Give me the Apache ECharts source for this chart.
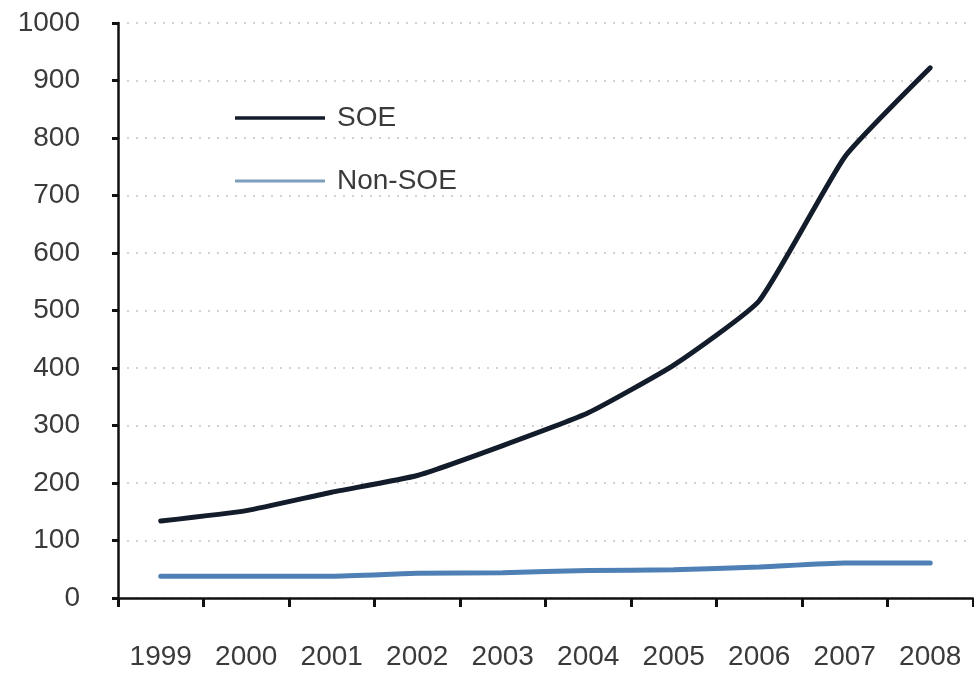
<!DOCTYPE html>
<html>
<head>
<meta charset="utf-8">
<script src="https://cdn.jsdelivr.net/npm/echarts@6/dist/echarts.min.js"></script>
<style>
  html, body { margin: 0; padding: 0; background: #fff; }
  #chart { width: 974px; height: 673px; }
</style>
</head>
<body>
<div id="chart"></div>
<script>
  // values
  var years = ['1999', '2000', '2001', '2002', '2003', '2004', '2005', '2006', '2007', '2008'];
  var soe = [134, 152, 184, 213, 265, 322, 405, 517, 767, 922];
  var nonSoe = [38, 38, 38, 43, 44, 48, 49, 54, 61, 61];

  var chart = echarts.init(document.getElementById('chart'));
  var font = 'Liberation Sans, Arial, sans-serif';
  var labelFont = {fontFamily: font, fontSize: 28, color: '#3a3a3a'};
  var legendText = {fontFamily: font, fontSize: 28, color: '#3a3a3a', padding: [0, 0, 0, 7]};

  chart.setOption({
    backgroundColor: '#fff',
    animation: false,
    grid: {left: 118, right: 1, top: 23, bottom: 75},
    legend: [
      {
        data: [{name: 'SOE', icon: 'rect'}],
        left: 230, top: 99,
        itemWidth: 90, itemHeight: 3.5, itemGap: 0,
        textStyle: legendText
      },
      {
        data: [{name: 'Non-SOE', icon: 'rect'}],
        left: 230, top: 162,
        itemWidth: 90, itemHeight: 3, itemGap: 0,
        itemStyle: {color: '#7d9dbd'},
        textStyle: legendText
      }
    ],
    xAxis: {
      type: 'category',
      data: years,
      boundaryGap: true,
      axisLine: {lineStyle: {color: '#111', width: 2.5}},
      axisTick: {show: true, length: 9, lineStyle: {color: '#111', width: 3}},
      axisLabel: Object.assign({margin: 45}, labelFont),
      splitLine: {show: false}
    },
    yAxis: {
      type: 'value',
      min: 0, max: 1000, interval: 100,
      axisLine: {show: true, lineStyle: {color: '#111', width: 2.5}},
      axisTick: {show: true, length: 6, lineStyle: {color: '#111', width: 3}},
      axisLabel: Object.assign({margin: 38, formatter: function (v) { return String(v); }}, labelFont),
      splitLine: {lineStyle: {color: '#c4c4c4', width: 1.5, type: [2, 7]}}
    },
    series: [
      {
        name: 'SOE',
        type: 'line',
        data: soe,
        smooth: 0.15,
        showSymbol: false,
        color: '#131c2b',
        lineStyle: {width: 5, color: '#131c2b', cap: 'round'}
      },
      {
        name: 'Non-SOE',
        type: 'line',
        data: nonSoe,
        smooth: 0.15,
        showSymbol: false,
        color: '#4f80b5',
        lineStyle: {width: 5, color: '#4f80b5', cap: 'round'}
      }
    ]
  });
</script>
</body>
</html>
